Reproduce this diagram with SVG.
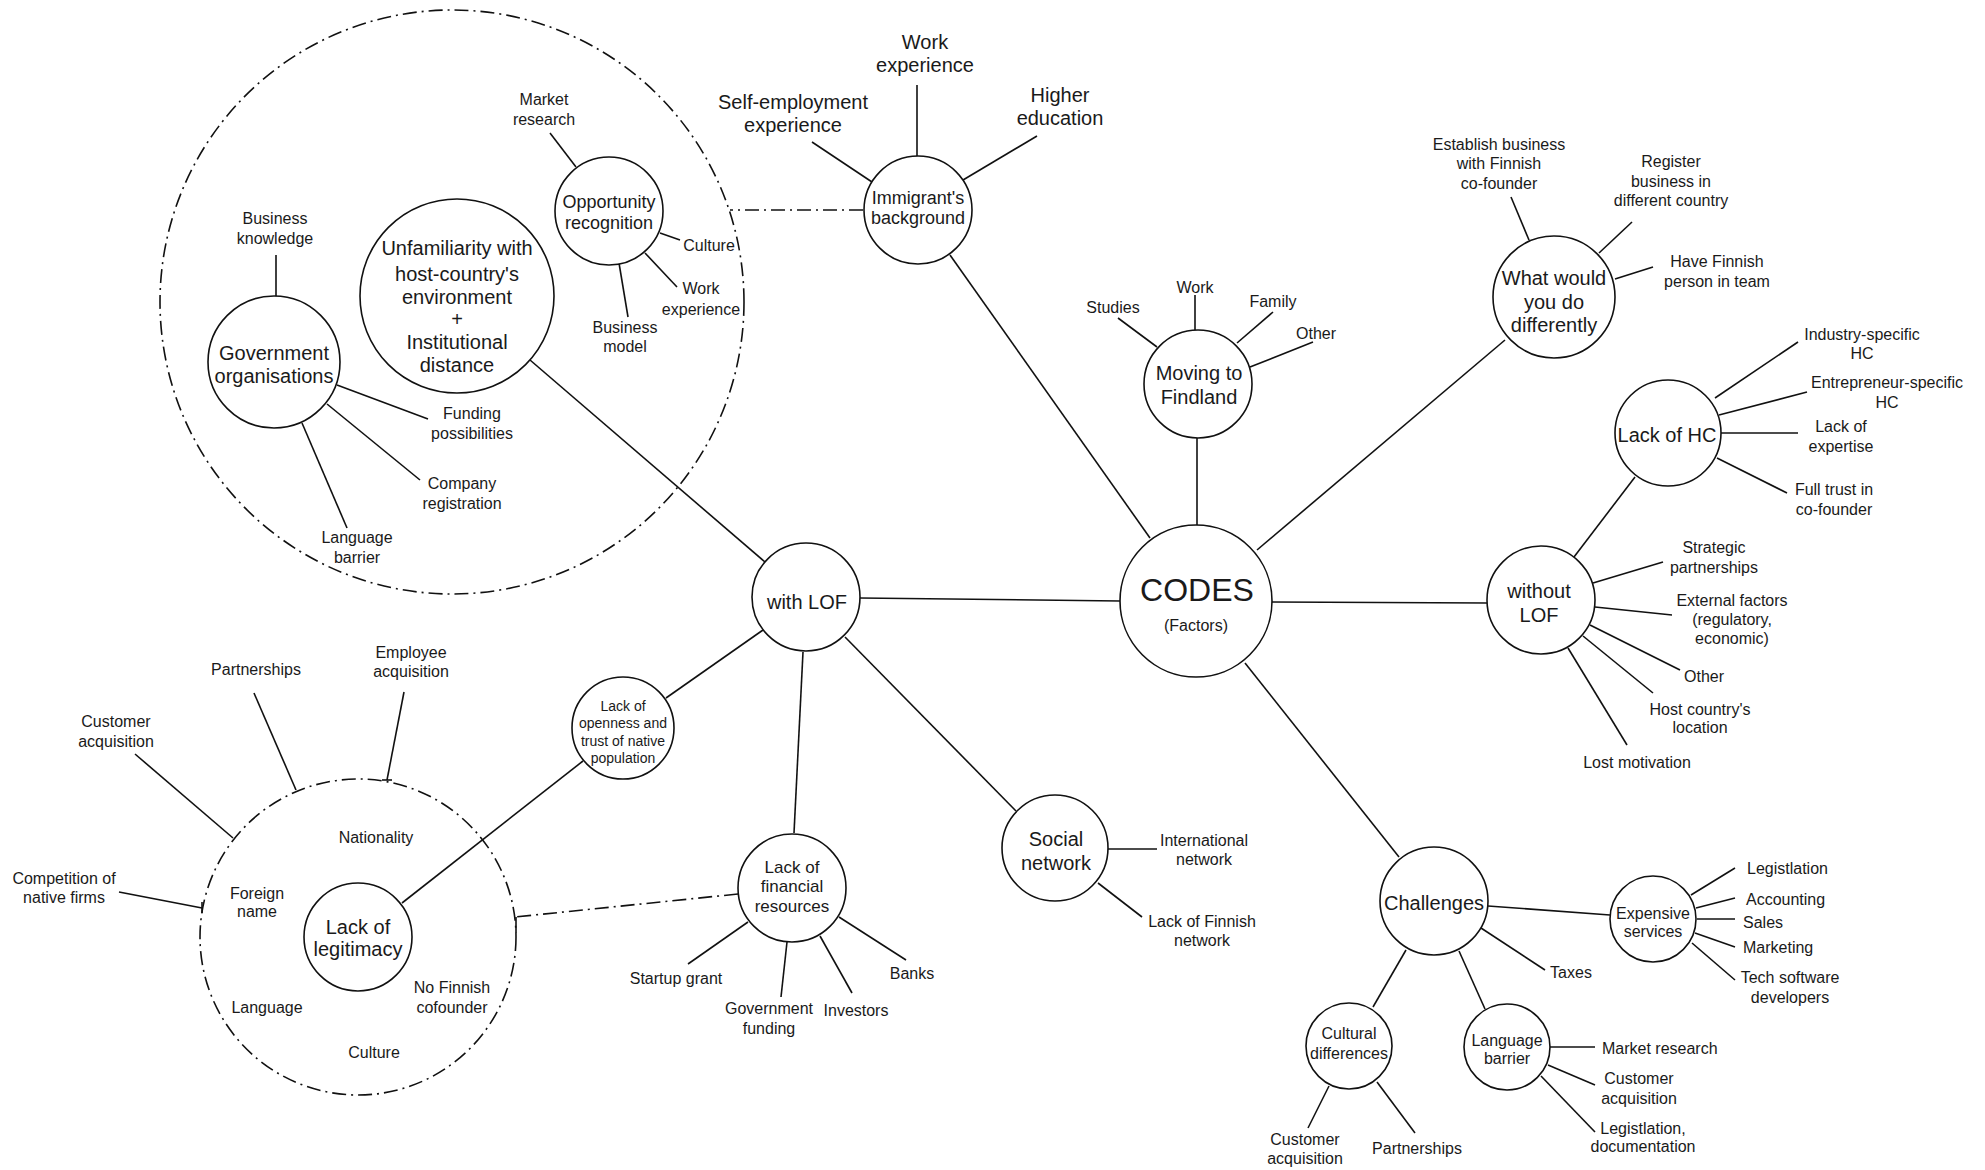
<svg xmlns="http://www.w3.org/2000/svg" width="1985" height="1170" viewBox="0 0 1985 1170">
<style>
.n{fill:#fff;stroke:#111;stroke-width:1.6}
.l{stroke:#111;stroke-width:1.6;fill:none}
.dd{stroke:#111;stroke-width:1.6;fill:none;stroke-dasharray:14 5 2 5}
text{font-family:"Liberation Sans",Arial,Helvetica,sans-serif;fill:#1a1a1a;text-anchor:middle}
.f14{font-size:14px}.f16{font-size:16px}.f17{font-size:17px}.f18{font-size:18px}.f20{font-size:20px}.f32{font-size:32px}
.st{text-anchor:start}
</style>
<rect width="1985" height="1170" fill="#fff"/>
<g id="regions">
<circle id="region-unfamiliarity" class="dd" cx="452" cy="302" r="292"/>
<circle id="region-legitimacy" class="dd" cx="358" cy="937" r="158"/>
</g>
<g id="connectors">
<line class="l" x1="276" y1="297" x2="276" y2="255"/>
<line class="l" x1="337" y1="385" x2="428" y2="419"/>
<line class="l" x1="327" y1="404" x2="420" y2="480"/>
<line class="l" x1="302" y1="423" x2="347" y2="528"/>
<line class="l" x1="530" y1="360" x2="765" y2="562"/>
<line class="l" x1="576" y1="167" x2="550" y2="133"/>
<line class="l" x1="660" y1="233" x2="680" y2="240"/>
<line class="l" x1="645" y1="253" x2="677" y2="287"/>
<line class="l" x1="619" y1="263" x2="628" y2="317"/>
<line class="dd" x1="863" y1="210" x2="730" y2="210"/>
<line class="l" x1="917" y1="157" x2="917" y2="85"/>
<line class="l" x1="872" y1="182" x2="812" y2="142"/>
<line class="l" x1="963" y1="180" x2="1037" y2="136"/>
<line class="l" x1="950" y1="255" x2="1150" y2="538"/>
<line class="l" x1="1197" y1="437" x2="1197" y2="525"/>
<line class="l" x1="1157" y1="347" x2="1118" y2="318"/>
<line class="l" x1="1195" y1="330" x2="1195" y2="295"/>
<line class="l" x1="1237" y1="343" x2="1273" y2="312"/>
<line class="l" x1="1250" y1="367" x2="1313" y2="342"/>
<line class="l" x1="1505" y1="340" x2="1257" y2="550"/>
<line class="l" x1="1529" y1="240" x2="1511" y2="197"/>
<line class="l" x1="1599" y1="253" x2="1632" y2="222"/>
<line class="l" x1="1615" y1="279" x2="1653" y2="267"/>
<line class="l" x1="1272" y1="602" x2="1487" y2="603"/>
<line class="l" x1="860" y1="598" x2="1120" y2="601"/>
<line class="l" x1="1574" y1="557" x2="1635" y2="477"/>
<line class="l" x1="1715" y1="398" x2="1798" y2="342"/>
<line class="l" x1="1719" y1="415" x2="1807" y2="392"/>
<line class="l" x1="1721" y1="433" x2="1798" y2="433"/>
<line class="l" x1="1717" y1="458" x2="1787" y2="493"/>
<line class="l" x1="1593" y1="583" x2="1663" y2="562"/>
<line class="l" x1="1595" y1="607" x2="1672" y2="615"/>
<line class="l" x1="1590" y1="625" x2="1680" y2="670"/>
<line class="l" x1="1583" y1="636" x2="1653" y2="693"/>
<line class="l" x1="1568" y1="648" x2="1627" y2="745"/>
<line class="l" x1="1245" y1="663" x2="1399" y2="857"/>
<line class="l" x1="1488" y1="906" x2="1610" y2="915"/>
<line class="l" x1="1481" y1="928" x2="1545" y2="970"/>
<line class="l" x1="1406" y1="950" x2="1373" y2="1007"/>
<line class="l" x1="1459" y1="951" x2="1485" y2="1009"/>
<line class="l" x1="1691" y1="895" x2="1735" y2="868"/>
<line class="l" x1="1696" y1="908" x2="1735" y2="898"/>
<line class="l" x1="1697" y1="919" x2="1735" y2="919"/>
<line class="l" x1="1695" y1="933" x2="1735" y2="947"/>
<line class="l" x1="1692" y1="943" x2="1735" y2="980"/>
<line class="l" x1="1329" y1="1086" x2="1308" y2="1128"/>
<line class="l" x1="1377" y1="1082" x2="1415" y2="1133"/>
<line class="l" x1="1550" y1="1047" x2="1595" y2="1047"/>
<line class="l" x1="1548" y1="1065" x2="1595" y2="1085"/>
<line class="l" x1="1541" y1="1076" x2="1595" y2="1132"/>
<line class="l" x1="845" y1="637" x2="1016" y2="811"/>
<line class="l" x1="1108" y1="849" x2="1157" y2="849"/>
<line class="l" x1="1098" y1="883" x2="1142" y2="917"/>
<line class="l" x1="763" y1="630" x2="666" y2="698"/>
<line class="l" x1="583" y1="761" x2="402" y2="903"/>
<line class="l" x1="803" y1="652" x2="794" y2="833"/>
<line class="l" x1="748" y1="922" x2="688" y2="964"/>
<line class="l" x1="787" y1="942" x2="781" y2="997"/>
<line class="l" x1="820" y1="936" x2="852" y2="993"/>
<line class="l" x1="839" y1="917" x2="906" y2="960"/>
<line class="dd" x1="738" y1="894" x2="515" y2="917"/>
<line class="l" x1="516" y1="917" x2="516" y2="933"/>
<line class="l" x1="135" y1="754" x2="233" y2="838"/>
<line class="l" x1="254" y1="693" x2="296" y2="790"/>
<line class="l" x1="404" y1="692" x2="387" y2="780"/>
<line class="l" x1="382" y1="780" x2="392" y2="780"/>
<line class="l" x1="119" y1="892" x2="202" y2="908"/>
<line class="l" x1="202" y1="902" x2="202" y2="913"/>
</g>
<g id="node-government"><circle class="n" cx="274" cy="362" r="66"/><text class="f20" x="274" y="360">Government</text><text class="f20" x="274" y="383">organisations</text></g>
<g id="node-unfamiliarity"><circle class="n" cx="457" cy="296" r="97"/><text class="f20" x="457"><tspan x="457" y="255">Unfamiliarity with</tspan><tspan x="457" y="281">host-country's</tspan><tspan x="457" y="304">environment</tspan><tspan x="457" y="326">+</tspan><tspan x="457" y="349">Institutional</tspan><tspan x="457" y="372">distance</tspan></text></g>
<g id="node-opportunity"><circle class="n" cx="609" cy="211" r="54"/><text class="f18" x="609" y="208">Opportunity</text><text class="f18" x="609" y="229">recognition</text></g>
<g id="node-immigrant"><circle class="n" cx="918" cy="210" r="54"/><text class="f18" x="918" y="204">Immigrant's</text><text class="f18" x="918" y="224">background</text></g>
<g id="node-moving"><circle class="n" cx="1198" cy="384" r="54"/><text class="f20" x="1199" y="380">Moving to</text><text class="f20" x="1199" y="404">Findland</text></g>
<g id="node-codes"><circle class="n" cx="1196" cy="601" r="76"/><text class="f32" x="1197" y="601">CODES</text><text class="f16" x="1196" y="631">(Factors)</text></g>
<g id="node-what"><circle class="n" cx="1554" cy="297" r="61"/><text class="f20" x="1554" y="285">What would</text><text class="f20" x="1554" y="309">you do</text><text class="f20" x="1554" y="332">differently</text></g>
<g id="node-withlof"><circle class="n" cx="806" cy="597" r="54"/><text class="f20" x="807" y="609">with LOF</text></g>
<g id="node-withoutlof"><circle class="n" cx="1541" cy="600" r="54"/><text class="f20" x="1539" y="598">without</text><text class="f20" x="1539" y="622">LOF</text></g>
<g id="node-lackhc"><circle class="n" cx="1668" cy="433" r="53"/><text class="f20" x="1667" y="442">Lack of HC</text></g>
<g id="node-social"><circle class="n" cx="1055" cy="848" r="53"/><text class="f20" x="1056" y="846">Social</text><text class="f20" x="1056" y="870">network</text></g>
<g id="node-challenges"><circle class="n" cx="1434" cy="901" r="54"/><text class="f20" x="1434" y="910">Challenges</text></g>
<g id="node-expensive"><circle class="n" cx="1653" cy="919" r="43"/><text class="f16" x="1653" y="919">Expensive</text><text class="f16" x="1653" y="937">services</text></g>
<g id="node-cultural"><circle class="n" cx="1349" cy="1046" r="43"/><text class="f16" x="1349" y="1039">Cultural</text><text class="f16" x="1349" y="1059">differences</text></g>
<g id="node-langbarrier"><circle class="n" cx="1507" cy="1047" r="43"/><text class="f16" x="1507" y="1046">Language</text><text class="f16" x="1507" y="1064">barrier</text></g>
<g id="node-openness"><circle class="n" cx="623" cy="728" r="51"/><text class="f14" x="623" y="711">Lack of</text><text class="f14" x="623" y="728">openness and</text><text class="f14" x="623" y="746">trust of native</text><text class="f14" x="623" y="763">population</text></g>
<g id="node-financial"><circle class="n" cx="792" cy="888" r="54"/><text class="f17" x="792" y="873">Lack of</text><text class="f17" x="792" y="892">financial</text><text class="f17" x="792" y="912">resources</text></g>
<g id="node-legitimacy"><circle class="n" cx="358" cy="937" r="54"/><text class="f20" x="358" y="934">Lack of</text><text class="f20" x="358" y="956">legitimacy</text></g>
<g id="leaf-business-knowledge"><text class="f16" x="275" y="224">Business</text><text class="f16" x="275" y="244">knowledge</text></g>
<g id="leaf-funding"><text class="f16" x="472" y="419">Funding</text><text class="f16" x="472" y="439">possibilities</text></g>
<g id="leaf-company"><text class="f16" x="462" y="489">Company</text><text class="f16" x="462" y="509">registration</text></g>
<g id="leaf-gov-language"><text class="f16" x="357" y="543">Language</text><text class="f16" x="357" y="563">barrier</text></g>
<g id="leaf-opp-market"><text class="f16" x="544" y="105">Market</text><text class="f16" x="544" y="125">research</text></g>
<g id="leaf-opp-culture"><text class="f16" x="709" y="251">Culture</text></g>
<g id="leaf-opp-work"><text class="f16" x="701" y="294">Work</text><text class="f16" x="701" y="315">experience</text></g>
<g id="leaf-opp-business"><text class="f16" x="625" y="333">Business</text><text class="f16" x="625" y="352">model</text></g>
<g id="leaf-imm-work"><text class="f20" x="925" y="49">Work</text><text class="f20" x="925" y="72">experience</text></g>
<g id="leaf-imm-self"><text class="f20" x="793" y="109">Self-employment</text><text class="f20" x="793" y="132">experience</text></g>
<g id="leaf-imm-higher"><text class="f20" x="1060" y="102">Higher</text><text class="f20" x="1060" y="125">education</text></g>
<g id="leaf-mov-studies"><text class="f16" x="1113" y="313">Studies</text></g>
<g id="leaf-mov-work"><text class="f16" x="1195" y="293">Work</text></g>
<g id="leaf-mov-family"><text class="f16" x="1273" y="307">Family</text></g>
<g id="leaf-mov-other"><text class="f16" x="1316" y="339">Other</text></g>
<g id="leaf-establish"><text class="f16" x="1499" y="150">Establish business</text><text class="f16" x="1499" y="169">with Finnish</text><text class="f16" x="1499" y="189">co-founder</text></g>
<g id="leaf-register"><text class="f16" x="1671" y="167">Register</text><text class="f16" x="1671" y="187">business in</text><text class="f16" x="1671" y="206">different country</text></g>
<g id="leaf-have"><text class="f16" x="1717" y="267">Have Finnish</text><text class="f16" x="1717" y="287">person in team</text></g>
<g id="leaf-industry"><text class="f16" x="1862" y="340">Industry-specific</text><text class="f16" x="1862" y="359">HC</text></g>
<g id="leaf-entrepreneur"><text class="f16" x="1887" y="388">Entrepreneur-specific</text><text class="f16" x="1887" y="408">HC</text></g>
<g id="leaf-expertise"><text class="f16" x="1841" y="432">Lack of</text><text class="f16" x="1841" y="452">expertise</text></g>
<g id="leaf-trust"><text class="f16" x="1834" y="495">Full trust in</text><text class="f16" x="1834" y="515">co-founder</text></g>
<g id="leaf-strategic"><text class="f16" x="1714" y="553">Strategic</text><text class="f16" x="1714" y="573">partnerships</text></g>
<g id="leaf-external"><text class="f16" x="1732" y="606">External factors</text><text class="f16" x="1732" y="625">(regulatory,</text><text class="f16" x="1732" y="644">economic)</text></g>
<g id="leaf-without-other"><text class="f16" x="1704" y="682">Other</text></g>
<g id="leaf-host"><text class="f16" x="1700" y="715">Host country's</text><text class="f16" x="1700" y="733">location</text></g>
<g id="leaf-lost"><text class="f16" x="1637" y="768">Lost motivation</text></g>
<g id="leaf-international"><text class="f16" x="1204" y="846">International</text><text class="f16" x="1204" y="865">network</text></g>
<g id="leaf-finnish-network"><text class="f16" x="1202" y="927">Lack of Finnish</text><text class="f16" x="1202" y="946">network</text></g>
<g id="leaf-taxes"><text class="f16" x="1571" y="978">Taxes</text></g>
<g id="leaf-legistlation"><text class="f16 st" x="1747" y="874">Legistlation</text></g>
<g id="leaf-accounting"><text class="f16 st" x="1746" y="905">Accounting</text></g>
<g id="leaf-sales"><text class="f16 st" x="1743" y="928">Sales</text></g>
<g id="leaf-marketing"><text class="f16 st" x="1743" y="953">Marketing</text></g>
<g id="leaf-tech"><text class="f16" x="1790" y="983">Tech software</text><text class="f16" x="1790" y="1003">developers</text></g>
<g id="leaf-lang-market"><text class="f16 st" x="1602" y="1054">Market research</text></g>
<g id="leaf-lang-customer"><text class="f16" x="1639" y="1084">Customer</text><text class="f16" x="1639" y="1104">acquisition</text></g>
<g id="leaf-lang-legistlation"><text class="f16" x="1643" y="1134">Legistlation,</text><text class="f16" x="1643" y="1152">documentation</text></g>
<g id="leaf-cult-customer"><text class="f16" x="1305" y="1145">Customer</text><text class="f16" x="1305" y="1164">acquisition</text></g>
<g id="leaf-cult-partnerships"><text class="f16" x="1417" y="1154">Partnerships</text></g>
<g id="leaf-startup"><text class="f16" x="676" y="984">Startup grant</text></g>
<g id="leaf-gov-funding"><text class="f16" x="769" y="1014">Government</text><text class="f16" x="769" y="1034">funding</text></g>
<g id="leaf-investors"><text class="f16" x="856" y="1016">Investors</text></g>
<g id="leaf-banks"><text class="f16" x="912" y="979">Banks</text></g>
<g id="leaf-nationality"><text class="f16" x="376" y="843">Nationality</text></g>
<g id="leaf-foreign"><text class="f16" x="257" y="899">Foreign</text><text class="f16" x="257" y="917">name</text></g>
<g id="leaf-legit-language"><text class="f16" x="267" y="1013">Language</text></g>
<g id="leaf-nofinnish"><text class="f16" x="452" y="993">No Finnish</text><text class="f16" x="452" y="1013">cofounder</text></g>
<g id="leaf-legit-culture"><text class="f16" x="374" y="1058">Culture</text></g>
<g id="leaf-legit-customer"><text class="f16" x="116" y="727">Customer</text><text class="f16" x="116" y="747">acquisition</text></g>
<g id="leaf-legit-partnerships"><text class="f16" x="256" y="675">Partnerships</text></g>
<g id="leaf-employee"><text class="f16" x="411" y="658">Employee</text><text class="f16" x="411" y="677">acquisition</text></g>
<g id="leaf-competition"><text class="f16" x="64" y="884">Competition of</text><text class="f16" x="64" y="903">native firms</text></g>
</svg>
